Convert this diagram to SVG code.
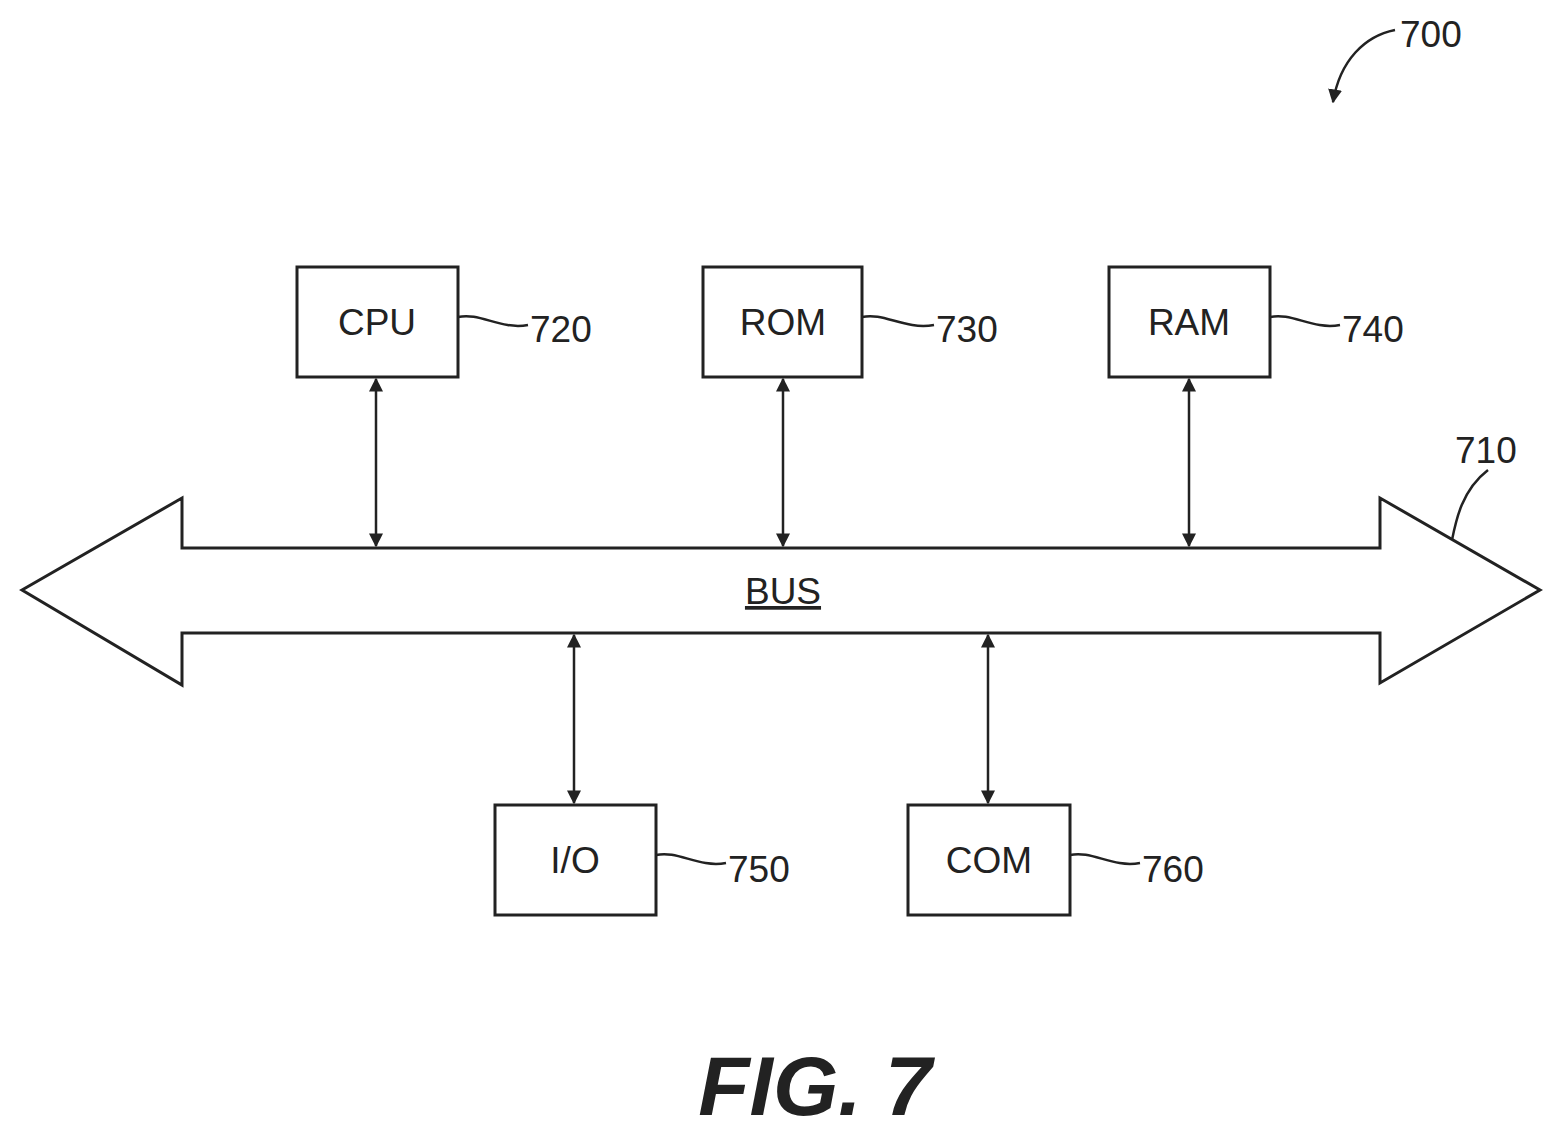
<svg xmlns="http://www.w3.org/2000/svg" width="1562" height="1139" viewBox="0 0 1562 1139">
<style>
.b{fill:#fff;stroke:#222;stroke-width:3}
.t{font-family:"Liberation Sans",Arial,sans-serif;font-size:37px;fill:#222}
.l{fill:none;stroke:#222;stroke-width:2.5}
</style>
<defs>
<marker id="h" viewBox="0 0 10 10" refX="9" refY="5" markerWidth="14" markerHeight="14" orient="auto-start-reverse" markerUnits="userSpaceOnUse"><path d="M0,0L10,5L0,10z" fill="#222"/></marker>
</defs>
<rect width="1562" height="1139" fill="#fff"/>
<g id="bus">
<path class="b" d="M22,590L182,498L182,548L1380,548L1380,498L1540,590L1380,683L1380,633L182,633L182,685Z"/>
<text class="t" x="783" y="604" text-anchor="middle" text-decoration="underline">BUS</text>
<path class="l" d="M1452,540C1456,520 1462,490 1488,470"/>
<text class="t" x="1455" y="463">710</text>
</g>
<g id="cpu"><rect class="b" x="297" y="267" width="161" height="110"/><text class="t" x="377" y="335" text-anchor="middle">CPU</text><path class="l" d="M458,317C480,312 500,330 528,325"/><text class="t" x="530" y="342">720</text></g>
<g id="rom"><rect class="b" x="703" y="267" width="159" height="110"/><text class="t" x="783" y="335" text-anchor="middle">ROM</text><path class="l" d="M862,317C884,312 904,330 934,325"/><text class="t" x="936" y="342">730</text></g>
<g id="ram"><rect class="b" x="1109" y="267" width="161" height="110"/><text class="t" x="1189" y="335" text-anchor="middle">RAM</text><path class="l" d="M1270,317C1292,312 1312,330 1340,325"/><text class="t" x="1342" y="342">740</text></g>
<g id="io"><rect class="b" x="495" y="805" width="161" height="110"/><text class="t" x="575" y="873" text-anchor="middle">I/O</text><path class="l" d="M656,855C678,850 698,868 726,863"/><text class="t" x="728" y="882">750</text></g>
<g id="com"><rect class="b" x="908" y="805" width="162" height="110"/><text class="t" x="989" y="873" text-anchor="middle">COM</text><path class="l" d="M1070,855C1092,850 1112,868 1140,863"/><text class="t" x="1142" y="882">760</text></g>
<g id="connectors">
<line class="l" x1="376" y1="379" x2="376" y2="546" marker-start="url(#h)" marker-end="url(#h)"/>
<line class="l" x1="783" y1="379" x2="783" y2="546" marker-start="url(#h)" marker-end="url(#h)"/>
<line class="l" x1="1189" y1="379" x2="1189" y2="546" marker-start="url(#h)" marker-end="url(#h)"/>
<line class="l" x1="574" y1="635" x2="574" y2="803" marker-start="url(#h)" marker-end="url(#h)"/>
<line class="l" x1="988" y1="635" x2="988" y2="803" marker-start="url(#h)" marker-end="url(#h)"/>
<path class="l" d="M1395,30C1365,36 1340,60 1333,102" marker-end="url(#h)"/>
</g>
<text class="t" x="1400" y="47">700</text>
<text x="815" y="1115" text-anchor="middle" font-family="Liberation Sans,Arial,sans-serif" font-size="84" font-weight="bold" font-style="italic" fill="#222">FIG. 7</text>
</svg>
